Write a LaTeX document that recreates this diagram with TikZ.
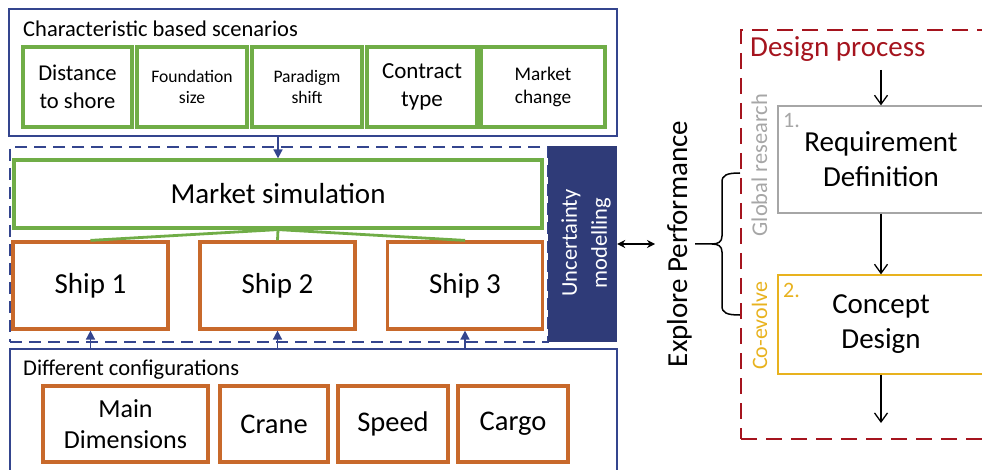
\documentclass[tikz,border=0pt]{standalone}
\usepackage{fontspec}
\setmainfont{Carlito}
\usetikzlibrary{arrows.meta}
\definecolor{navyline}{HTML}{34458E}
\definecolor{navyfill}{HTML}{2F3B78}
\definecolor{boxgreen}{HTML}{70AD47}
\definecolor{boxorange}{HTML}{C8692B}
\definecolor{darkred}{HTML}{A5141E}
\definecolor{reqgray}{HTML}{A6A6A6}
\definecolor{gold}{HTML}{E8B21E}
\newcommand{\myfs}[2]{\fontsize{#1pt}{#2pt}\selectfont}
\begin{document}
\begin{tikzpicture}[x=1pt,y=-1pt,
  frame/.style={draw=navyline, line width=1.3pt, inner sep=0pt},
  dframe/.style={draw=navyline, line width=2pt, dash pattern=on 12pt off 7pt, inner sep=0pt},
  rframe/.style={draw=darkred, line width=2.5pt, dash pattern=on 16pt off 9pt, inner sep=0pt},
  gbox/.style={draw=boxgreen, line width=3.2pt, fill=white, align=center, inner sep=0pt},
  obox/.style={draw=boxorange, line width=3.2pt, fill=white, align=center, inner sep=0pt},
  pbox/.style={line width=1.3pt, fill=white, align=center, inner sep=0pt, font=\myfs{29}{35}},
  navarrow/.style={draw=navyline, line width=1.6pt, -{Triangle[length=9pt,width=9pt]}},
  barrow/.style={draw=black, line width=1.3pt, -{Straight Barb[length=9pt,width=13pt,line width=1.3pt]}},
  dblarrow/.style={draw=black, line width=1.5pt, {Stealth[length=8pt,width=8pt]}-{Stealth[length=8pt,width=8pt]}},
  gline/.style={draw=boxgreen, line width=2.8pt},
  title/.style={anchor=base west, inner sep=0pt, font=\myfs{22.5}{27}}
]
\useasboundingbox (0,0) rectangle (982,470);
\begin{scope}
\clip (0,0) rectangle (982,470);

% top frame
\node[frame, minimum width=608pt, minimum height=127pt] (topf) at (313,72.5) {};
\node[title] (ttl) at (23,37) {Characteristic based scenarios};
\node[gbox, minimum width=109pt, minimum height=80pt, font=\myfs{22.6}{28}] (g1) at (77.5,87) {Distance\\to shore};
\node[gbox, minimum width=110pt, minimum height=80pt, font=\myfs{17.6}{21}] (g2) at (192,87) {Foundation\\size};
\node[gbox, minimum width=110pt, minimum height=80pt, font=\myfs{17.6}{21}] (g3) at (307,87) {Paradigm\\shift};
\node[gbox, minimum width=110pt, minimum height=80pt, font=\myfs{23}{28}] (g4) at (422,87) {Contract\\type};
\node[gbox, minimum width=124pt, minimum height=80pt, font=\myfs{19.3}{23}] (g5) at (543,87) {Market\\change};

% dashed frame with market simulation and ships
\node[dframe, minimum width=538pt, minimum height=195pt] (dashf) at (279,244.5) {};
\node[gbox, minimum width=528pt, minimum height=68pt, font=\myfs{29}{35}] (ms) at (278,194) {Market simulation};
\node[obox, minimum width=155pt, minimum height=87pt, font=\myfs{29}{35}] (s1) at (90.5,285.5) {Ship 1};
\node[obox, minimum width=155pt, minimum height=87pt, font=\myfs{29}{35}] (s2) at (277.5,285.5) {Ship 2};
\node[obox, minimum width=155pt, minimum height=87pt, font=\myfs{29}{35}] (s3) at (465,285.5) {Ship 3};
\draw[gline] (ms.south) -- (s1.north);
\draw[gline] (ms.south) -- (s2.north);
\draw[gline] (ms.south) -- (s3.north);

% uncertainty modelling
\node[fill=navyfill, minimum width=69pt, minimum height=196pt, inner sep=0pt] (dark) at (582.5,244) {};
\node[rotate=90, text=white, align=center, font=\myfs{22.5}{30}, inner sep=0pt] (unc) at (586,243) {Uncertainty\\modelling};

% bottom frame
\node[frame, minimum width=607pt, minimum height=131pt] (botf) at (313.5,414.5) {};
\node[title] (dct) at (23,375) {Different configurations};
\node[obox, minimum width=165pt, minimum height=76pt, font=\myfs{26}{31}] (b1) at (125.5,424) {Main\\Dimensions};
\node[obox, minimum width=108pt, minimum height=76pt, font=\myfs{28.5}{34}] (b2) at (274,424) {Crane};
\node[obox, minimum width=110pt, minimum height=76pt, font=\myfs{28.5}{34}] (b3) at (393,424) {Speed};
\node[obox, minimum width=110pt, minimum height=76pt, font=\myfs{28.5}{34}] (b4) at (513,424) {Cargo};

% navy arrows
\draw[navarrow] (ms.north |- topf.south) -- (ms.north);
\draw[navarrow] (s1.south |- botf.north) -- (s1.south);
\draw[navarrow] (s2.south |- botf.north) -- (s2.south);
\draw[navarrow] (s3.south |- botf.north) -- (s3.south);

% explore performance
\coordinate (ep) at (655,244);
\draw[dblarrow] (dark.east) -- (ep);
\node[rotate=90, anchor=base, inner sep=0pt, font=\myfs{29}{35}] (expl) at (687,244) {Explore Performance};

% brace
\coordinate (br1) at (740,173);
\coordinate (br2) at (740,315);
\coordinate (brt) at (695,244);
\draw[line width=1.5pt] (br1) .. controls (727,173) and (722,175) .. (722,182) -- (722,236) .. controls (722,242) and (718,244) .. (712,244) -- (brt);
\draw[line width=1.5pt] (br2) .. controls (727,315) and (722,313) .. (722,306) -- (722,252) .. controls (722,246) and (718,244) .. (712,244);

% design process
\node[rframe, minimum width=259pt, minimum height=409pt] (dp) at (870.5,234.5) {};
\node[anchor=base west, inner sep=0pt, text=darkred, font=\myfs{29}{35}] (dpt) at (750,57) {Design process};
\node[pbox, draw=reqgray, minimum width=206pt, minimum height=107pt] (req) at (881,159.5) {Requirement\\Definition};
\node[pbox, draw=gold, minimum width=206pt, minimum height=99pt] (con) at (881,324.5) {Concept\\Design};
\node[anchor=base west, inner sep=0pt, text=reqgray, font=\myfs{22}{26}] (n1) at (783,128) {1.};
\node[anchor=base west, inner sep=0pt, text=gold, font=\myfs{22}{26}] (n2) at (783,298) {2.};
\node[rotate=90, anchor=base, inner sep=0pt, text=reqgray, font=\myfs{22.5}{27}] (glob) at (767,165) {Global research};
\node[rotate=90, anchor=base, inner sep=0pt, text=gold, font=\myfs{22}{27}] (coev) at (767,326) {Co-evolve};
\coordinate (a0) at (881,70);
\coordinate (a3) at (881,423);
\draw[barrow] (a0) -- (req.north);
\draw[barrow] (req.south) -- (con.north);
\draw[barrow] (con.south) -- (a3);
\end{scope}
\end{tikzpicture}
\end{document}
